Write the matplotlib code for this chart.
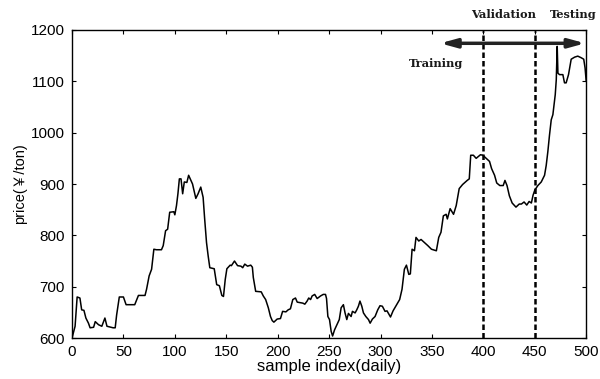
import matplotlib
matplotlib.use("Agg")
import matplotlib.pyplot as plt

# sample index vs price
sample_idx = [0, 3, 5, 7.7, 9.4, 11.6, 13.5, 16, 17.6, 21, 22.6, 25.8, 29, 32, 34, 40, 42,
              43.4, 46, 50, 52.6, 61, 64.6, 71, 72.5, 75, 77.4, 79.6, 82, 87, 88.7, 91, 93,
              95, 99, 100, 101.6, 103, 104.4, 106, 107.6, 109.2, 111.7, 113.4, 115.6, 117.2,
              120.4, 122.6, 125.2, 127.5, 129, 130.8, 132.4, 134, 138.3, 140.7, 143.3, 145.7,
              147.3, 149, 150.6, 153.8, 155, 158, 161, 164.3, 166, 168, 170.7, 173.8, 175.4,
              176.3, 178.6, 184, 186, 188.3, 190.9, 193, 194.7, 196.3, 199.5, 202.7, 204.8,
              208, 210.2, 212.4, 214.7, 217.3, 219, 222, 224.5, 226.4, 228.6, 230.2, 232,
              233.5, 236, 238.4, 241.7, 244.3, 246.5, 247.5, 248.8, 250.4, 252, 253.4, 255.3,
              257.6, 259.9, 261.7, 263.9, 265.5, 267.2, 268.8, 271.4, 272.7, 275.3, 276.9,
              278.5, 280, 281.8, 283.4, 285.7, 288.3, 289.9, 292.1, 294.7, 297.3, 299.5,
              301.8, 304.4, 306.3, 309.7, 312.2, 314.8, 318.6, 320.9, 323.2, 325.2, 327.5,
              329, 330.7, 333, 334.5, 337.2, 339.4, 342.7, 346, 349.5, 354.3, 356.6, 358.8,
              361.1, 363.8, 365, 367.7, 371, 373.6, 376.5, 379.8, 384.3, 386.3, 387.7, 390.3,
              393, 397.2, 399.5, 402.8, 406, 408, 410.9, 413, 416, 419.3, 421, 423, 425.3,
              428, 431.7, 434.9, 437, 439.6, 442.2, 444.5, 446.7, 448.3, 450, 453, 456.3,
              459.5, 461.1, 462.7, 464.3, 466, 467.6, 469.9, 470.9, 471.8, 472.5, 474, 477.3,
              478.9, 480.5, 482.8, 485.4, 488.7, 491.8, 495, 497.6, 498.9, 500]
price = [600, 623, 680, 678, 655, 654, 639, 629, 620, 621, 632, 626, 623, 639, 623, 620, 620,
         645, 680, 680, 665, 665, 683, 683, 695, 721, 734, 773, 772, 772, 780, 809, 812,
         845, 846, 840, 858, 881, 910, 910, 881, 904, 903, 917, 907, 900,
         872, 881, 894, 874, 832, 786, 760, 737, 735, 704, 702, 683,
         681, 714, 735, 742, 741, 750, 741, 740, 737, 744, 740, 742, 738,
         718, 691, 690, 682, 675, 659, 642, 634, 631, 637, 638, 652,
         651, 655, 657, 675, 678, 670, 669, 668, 666, 672, 678, 675,
         682, 685, 677, 682, 685, 685, 677, 642, 636, 613, 604, 616,
         626, 636, 659, 665, 649, 636, 648, 642, 652, 649, 655,
         662, 672, 662, 649, 642, 636, 629, 637, 642, 655, 663,
         662, 652, 653, 641, 653, 662, 675, 695, 734, 742, 724,
         725, 773, 770, 796, 789, 792, 786, 780, 773, 770, 796, 806,
         838, 841, 832, 852, 841, 858, 891, 899, 907, 910, 956, 956,
         950, 957, 956, 950, 944, 930, 917, 902, 897, 897, 907, 897, 877,
         863, 855, 861, 861, 865, 859, 866, 863, 878, 888, 897, 904,
         917, 936, 963, 995, 1025, 1035, 1074, 1103, 1168, 1116, 1113, 1113,
         1097, 1097, 1113, 1143, 1147, 1149, 1146, 1143, 1126, 1100]

split_points = [400, 450]
x_ticks = [0, 50, 100, 150, 200, 250, 300, 350, 400, 450, 500]
y_ticks = [600, 700, 800, 900, 1000, 1100, 1200]

plt.rcParams['font.family'] = ['Liberation Sans', 'DejaVu Sans']

fig = plt.figure(figsize=(6, 3.79), dpi=100)
ax = fig.add_axes([0.12, 0.108, 0.857, 0.813])

ax.plot(sample_idx, price, color='black', linewidth=1.1)

for sp in split_points:
    ax.plot([sp, sp], [600, 1197], color='black', linestyle=(0, (2.2, 1.2)), linewidth=1.8)

ax.annotate('', xy=(358, 1174), xytext=(499, 1174),
            arrowprops=dict(arrowstyle='<|-|>,head_length=0.8,head_width=0.22',
                            mutation_scale=12, lw=2.5, color='#222222',
                            shrinkA=0, shrinkB=0))

serif = dict(family='DejaVu Serif', fontweight='bold', fontsize=8.2, color='#1a1a1a')
ax.text(354, 1135, 'Training', ha='center', va='center', **serif)
ax.text(420, 1230, 'Validation', ha='center', va='center', clip_on=False, **serif)
ax.text(510, 1230, 'Testing', ha='right', va='center', clip_on=False, **serif)

ax.set_xlim(0, 500)
ax.set_ylim(600, 1200)
ax.set_xticks(x_ticks)
ax.set_yticks(y_ticks)
ax.tick_params(direction='in', length=3, top=True, right=True, labelsize=11, pad=5)
for s in ax.spines.values():
    s.set_linewidth(1.0)

ax.set_xlabel('sample index(daily)', fontsize=12, labelpad=0)
ax.set_ylabel('price(￥/ton)', fontsize=10.5, labelpad=3,
              family=['Liberation Sans', 'Noto Sans CJK SC'])

fig.savefig('out.png', dpi=100)
